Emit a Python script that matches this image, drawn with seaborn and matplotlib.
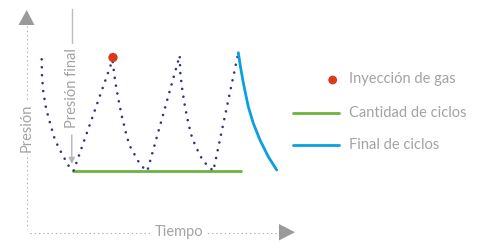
import matplotlib
matplotlib.use("Agg")
import matplotlib.pyplot as plt
import seaborn as sns
import pandas as pd
from matplotlib.patches import Polygon

# ---------------- data (arbitrary units: time, pressure) ----------------
cycle_time = [13.7, 14.0, 15.3, 18.0, 22.3, 27.0, 34.0, 41.3, 45.5,
              84.5,
              85.3, 87.3, 90.3, 93.7, 98.0, 101.3, 106.3, 110.3, 115.3, 119.3,
              151.7,
              152.3, 154.3, 157.0, 160.3, 164.3, 171.3, 175.3, 181.0, 185.3,
              210.3]
cycle_pressure = [172.7, 156.0, 140.0, 124.0, 108.0, 92.0, 78.0, 65.0, 61.0,
                  172.0,
                  165.3, 150.0, 133.3, 116.3, 99.0, 87.0, 78.0, 70.7, 64.3, 61.0,
                  176.5,
                  159.0, 142.0, 125.3, 109.0, 93.3, 78.0, 70.7, 65.3, 61.0,
                  179.0]

final_time = [210.3, 212.5, 215.0, 217.5, 220.3, 225.3, 232.0, 240.3, 248.7]
final_pressure = [179.3, 165.0, 151.0, 138.5, 125.3, 108.7, 92.0, 75.3, 62.0]

cycles_time = [44.5, 212.5]
cycles_pressure = [61.5, 61.5]

injection_time = [85.0]
injection_pressure = [174.5]

legend_labels = ["Inyección de gas", "Cantidad de ciclos", "Final de ciclos"]
x_label = "Tiempo"
y_label = "Presión"
final_label = "Presión final"

NAVY = "#2d3381"
GREEN = "#6cb33f"
BLUE = "#0aa0df"
RED = "#d93a1b"
GREY_TXT = "#a3a3a3"
GREY_AX = "#9a9a9a"

sns.set_theme(style="white")
plt.rcParams["font.family"] = ["Lato", "DejaVu Sans"]

W, H = 484, 244
fig = plt.figure(figsize=(W / 100, H / 100), dpi=100)
ax = fig.add_axes([0, 0, 1, 1])
# 1 data unit == 1 pixel, origin at pixel (28, 232)
ax.set_xlim(-28, W - 28)
ax.set_ylim(232 - H, 232)
ax.axis("off")

cyc = pd.DataFrame({"t": cycle_time, "p": cycle_pressure})
fin = pd.DataFrame({"t": final_time, "p": final_pressure})
grn = pd.DataFrame({"t": cycles_time, "p": cycles_pressure})
inj = pd.DataFrame({"t": injection_time, "p": injection_pressure})

# green: cycle count baseline
sns.lineplot(data=grn, x="t", y="p", ax=ax, color=GREEN, lw=2.0,
             estimator=None, sort=False, zorder=2)
# dotted cycles
sns.lineplot(data=cyc, x="t", y="p", ax=ax, color=NAVY, lw=1.9,
             estimator=None, sort=False, zorder=3)
line = ax.lines[-1]
line.set_dashes((0.01, 3.0))
line.set_dash_capstyle("round")
# final decay
sns.lineplot(data=fin, x="t", y="p", ax=ax, color=BLUE, lw=2.0,
             estimator=None, sort=False, zorder=3)
ax.lines[-1].set_solid_joinstyle("round")
# injection point
sns.scatterplot(data=inj, x="t", y="p", ax=ax, color=RED, s=45,
                edgecolor="none", zorder=4)

ax.set_xlabel("")
ax.set_ylabel("")

def px(x, y):
    return (x - 28, 232 - y)

# axes (dotted grey)
ax.plot(*zip(px(27, 26), px(27, 229)), color="#b0b0b0", lw=0.8,
        ls=(0, (1.2, 2.6)), zorder=1)
ax.plot(*zip(px(30, 232.5), px(279, 232.5)), color="#b0b0b0", lw=0.8,
        ls=(0, (1.2, 2.6)), zorder=1)
ax.add_patch(Polygon([px(18.5, 25), px(34.5, 25), px(26.7, 10)],
                     closed=True, color=GREY_AX, lw=0, zorder=2))
ax.add_patch(Polygon([px(279, 224), px(279, 240.5), px(295, 232.2)],
                     closed=True, color=GREY_AX, lw=0, zorder=2))

# axis labels with white background to break the dotted axes
ax.text(*px(179, 232), x_label, ha="center", va="center", fontsize=10.5,
        color=GREY_TXT, bbox=dict(fc="white", ec="none", pad=1.5), zorder=5)
ax.text(*px(27, 128), y_label, ha="center", va="center", rotation=90,
        fontsize=10.5, color=GREY_TXT,
        bbox=dict(fc="white", ec="none", pad=1.5), zorder=5)

# "Presión final" annotation
ax.text(*px(71.5, 88), final_label, ha="center", va="center", rotation=90,
        fontsize=10.5, color=GREY_TXT, zorder=5)
ax.plot(*zip(px(71.8, 9), px(71.8, 43)), color="#bdbdbd", lw=1.0, zorder=2)
ax.annotate("", xy=px(71.8, 164), xytext=px(71.8, 135),
            arrowprops=dict(arrowstyle="-|>", color="#b5b5b5", lw=1.0,
                            mutation_scale=9, shrinkA=0, shrinkB=0), zorder=2)

# legend (manual)
ax.scatter(*px(332.7, 80), s=40, color=RED, edgecolor="none", zorder=4)
ax.plot(*zip(px(292.7, 113.3), px(339.3, 113.3)), color=GREEN, lw=2.0)
ax.plot(*zip(px(292.7, 145.3), px(339.3, 145.3)), color=BLUE, lw=2.0)
for lab, yy in zip(legend_labels, [79.5, 112.8, 144.8]):
    ax.text(*px(349, yy), lab, ha="left", va="center", fontsize=10.5,
            color=GREY_TXT)

fig.savefig("out.png", dpi=100)
